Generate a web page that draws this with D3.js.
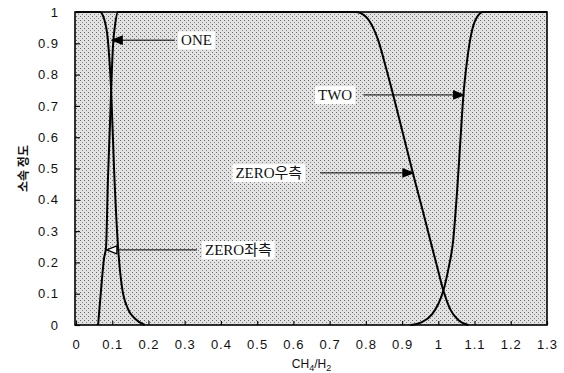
<!DOCTYPE html>
<html>
<head>
<meta charset="utf-8">
<script src="https://cdn.jsdelivr.net/npm/d3@7"></script>
<style>
  body { margin: 0; background: #fff; }
  svg { display: block; }
</style>
</head>
<body>
<div id="chart"></div>
<script>
// x = CH4/H2 ratio, y = membership degree
const xTicks = [0, 0.1, 0.2, 0.3, 0.4, 0.5, 0.6, 0.7, 0.8, 0.9, 1, 1.1, 1.2, 1.3];
const yTicks = [0, 0.1, 0.2, 0.3, 0.4, 0.5, 0.6, 0.7, 0.8, 0.9, 1];

// falling curve near the left edge
const oneX = [0, 0.066, 0.077, 0.088, 0.097, 0.105, 0.116, 0.127, 0.144, 0.163, 0.19];
const oneY = [1, 1, 0.98, 0.91, 0.75, 0.5, 0.25, 0.12, 0.05, 0.02, 0];

// ZERO: left rising side, flat top, right falling side
const zeroX = [0.061, 0.069, 0.077, 0.083, 0.088, 0.094, 0.097, 0.102, 0.108, 0.116,
  0.771, 0.80, 0.82, 0.834, 0.856, 0.881, 0.906, 0.931, 0.956, 0.978, 0.997, 1.014, 1.033, 1.055, 1.083];
const zeroY = [0, 0.11, 0.21, 0.25, 0.46, 0.65, 0.75, 0.89, 0.96, 1,
  1, 0.985, 0.95, 0.91, 0.82, 0.71, 0.595, 0.48, 0.37, 0.27, 0.185, 0.11, 0.05, 0.016, 0];

const twoX = [0.923, 0.956, 0.983, 1.0, 1.014, 1.028, 1.041, 1.052, 1.061, 1.069, 1.08, 1.091, 1.105, 1.124, 1.3];
const twoY = [0, 0.01, 0.035, 0.067, 0.11, 0.18, 0.27, 0.43, 0.59, 0.73, 0.85, 0.93, 0.98, 1, 1];

// annotations: label, arrow tip (x, y), arrow tail x, label start x
const noteLabels = ['ONE', 'ZERO좌측', 'TWO', 'ZERO우측'];
const noteTipX = [0.100, 0.085, 1.070, 0.930];
const noteTipY = [0.91, 0.24, 0.735, 0.486];
const noteTailX = [0.273, 0.334, 0.793, 0.674];
const noteTextX = [0.290, 0.356, 0.668, 0.440];
const noteFilled = [true, false, true, true];

const width = 564;
const height = 373;
const plotLeft = 75, plotRight = 547, plotTop = 12, plotBottom = 325;

const svg = d3.select('#chart').append('svg')
  .attr('width', width)
  .attr('height', height);

const xScale = d3.scaleLinear().domain([0, 1.3]).range([plotLeft + 1, plotRight]);
const yScale = d3.scaleLinear().domain([0, 1]).range([plotBottom, plotTop]);

/* stipple background */
const defs = svg.append('defs');
const pat = defs.append('pattern')
  .attr('id', 'stipple')
  .attr('patternUnits', 'userSpaceOnUse')
  .attr('width', 4).attr('height', 4);
pat.append('rect').attr('width', 4).attr('height', 4).attr('fill', '#e2e2e2');
pat.append('rect').attr('x', 0).attr('y', 0).attr('width', 1).attr('height', 1).attr('fill', '#666');
pat.append('rect').attr('x', 2).attr('y', 2).attr('width', 1).attr('height', 1).attr('fill', '#848484');

svg.append('rect')
  .attr('x', plotLeft).attr('y', plotTop)
  .attr('width', plotRight - plotLeft).attr('height', plotBottom - plotTop)
  .attr('fill', 'url(#stipple)');

/* axes */
const xAxis = d3.axisBottom(xScale)
  .tickValues(xTicks)
  .tickSizeInner(-4)
  .tickSizeOuter(0)
  .tickPadding(15)
  .tickFormat(d => d3.format('')(d));

const yAxis = d3.axisLeft(yScale)
  .tickValues(yTicks)
  .tickSizeInner(-5)
  .tickSizeOuter(0)
  .tickPadding(16)
  .tickFormat(d => d3.format('')(d));

function styleAxis(g) {
  g.select('.domain').remove();
  g.selectAll('.tick line').attr('stroke', '#111').attr('stroke-width', 1.2);
  g.selectAll('.tick text')
    .attr('fill', '#111')
    .style('font-family', '"Liberation Sans", Arial, sans-serif')
    .style('font-size', '13px')
    .style('letter-spacing', '1px');
}

svg.append('g')
  .attr('transform', `translate(0, ${plotBottom})`)
  .call(xAxis)
  .call(styleAxis);

svg.append('g')
  .attr('transform', `translate(${plotLeft}, 0)`)
  .call(yAxis)
  .call(styleAxis);

/* curves */
const line = d3.line()
  .x(d => xScale(d[0]))
  .y(d => yScale(d[1]))
  .curve(d3.curveMonotoneX);

const series = [
  d3.zip(oneX, oneY),
  d3.zip(zeroX, zeroY),
  d3.zip(twoX, twoY)
];

svg.append('g').selectAll('path')
  .data(series).enter()
  .append('path')
  .attr('d', d => line(d))
  .attr('fill', 'none')
  .attr('stroke', '#000')
  .attr('stroke-width', 2);

/* frame */
svg.append('rect')
  .attr('x', plotLeft).attr('y', plotTop)
  .attr('width', plotRight - plotLeft).attr('height', plotBottom - plotTop)
  .attr('fill', 'none')
  .attr('stroke', '#000')
  .attr('stroke-width', 1.6);

/* annotations */
const notes = noteLabels.map((label, i) => ({
  label,
  tx: xScale(noteTipX[i]),
  ty: yScale(noteTipY[i]),
  ex: xScale(noteTailX[i]),
  lx: xScale(noteTextX[i]),
  filled: noteFilled[i]
}));

const ann = svg.append('g').selectAll('g')
  .data(notes).enter()
  .append('g');

ann.append('line')
  .attr('x1', d => d.ex)
  .attr('x2', d => d.ex < d.tx ? d.tx - 8 : d.tx + 8)
  .attr('y1', d => d.ty)
  .attr('y2', d => d.ty)
  .attr('stroke', '#000')
  .attr('stroke-width', 1);

ann.append('path')
  .attr('d', d => {
    const dir = d.ex < d.tx ? -1 : 1;
    return `M${d.tx},${d.ty} L${d.tx + dir * 10},${d.ty - 4} L${d.tx + dir * 10},${d.ty + 4} Z`;
  })
  .attr('fill', d => d.filled ? '#000' : '#fff')
  .attr('stroke', '#000')
  .attr('stroke-width', 1.2);

const texts = ann.append('text')
  .attr('x', d => d.lx)
  .attr('y', d => d.ty)
  .attr('dy', '0.35em')
  .style('font-family', '"Liberation Serif", "Times New Roman", "Noto Sans CJK KR", serif')
  .style('font-size', '15px')
  .attr('fill', '#111')
  .text(d => d.label);

texts.each(function() {
  const b = this.getBBox();
  d3.select(this.parentNode).insert('rect', 'text')
    .attr('x', b.x - 3).attr('y', b.y - 1)
    .attr('width', b.width + 6).attr('height', b.height + 2)
    .attr('fill', '#fff');
});

/* axis titles */
const xTitle = svg.append('text')
  .attr('x', (xScale(0) + xScale(1.3)) / 2)
  .attr('y', 368)
  .attr('text-anchor', 'middle')
  .style('font-family', '"Liberation Sans", Arial, sans-serif')
  .style('font-size', '12px')
  .attr('fill', '#111');
xTitle.append('tspan').text('CH');
xTitle.append('tspan').attr('dy', 3).style('font-size', '9px').text('4');
xTitle.append('tspan').attr('dy', -3).text('/H');
xTitle.append('tspan').attr('dy', 3).style('font-size', '9px').text('2');

svg.append('text')
  .attr('transform', `translate(24, ${(plotTop + plotBottom) / 2}) rotate(-90)`)
  .attr('text-anchor', 'middle')
  .attr('dy', '0.35em')
  .style('font-family', '"Noto Sans CJK KR", sans-serif')
  .style('font-size', '12px')
  .style('font-weight', 'bold')
  .attr('fill', '#111')
  .text('소속 정도');
</script>
</body>
</html>
